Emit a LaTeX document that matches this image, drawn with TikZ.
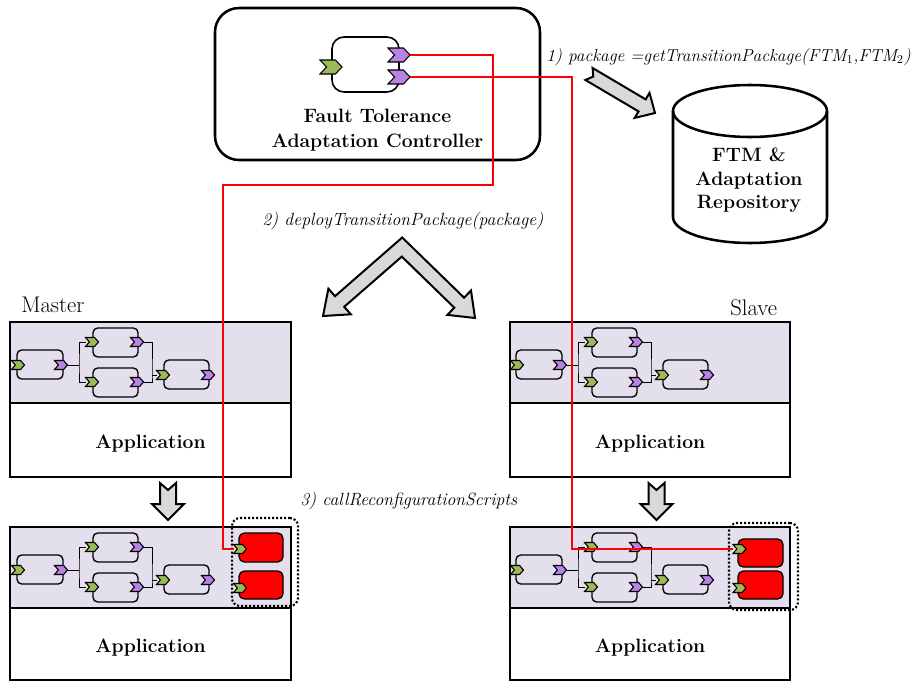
\documentclass[tikz,border=0pt]{standalone}
\usetikzlibrary{calc}
\definecolor{bandc}{RGB}{228,223,236}
\definecolor{pgreen}{RGB}{155,187,89}
\definecolor{ppurple}{RGB}{185,130,230}
\definecolor{agray}{RGB}{217,217,217}
\newcommand\portp[5]{\filldraw[portline,fill=#1] ({#2-#4/2},{#3-#5/2}) -- ({#2+0.2*#4},{#3-#5/2}) -- ({#2+#4/2},{#3}) -- ({#2+0.2*#4},{#3+#5/2}) -- ({#2-#4/2},{#3+#5/2}) -- ({#2-0.2*#4},{#3}) -- cycle;}
\newcommand\chain[3]{%
\begin{scope}[shift={(#2,#3)}]
 \node[comp,minimum width=34.5pt,minimum height=21.75pt] (#1c1) at (40,364.5) {};
 \node[comp,minimum width=33.75pt,minimum height=21.75pt] (#1c2) at (115.5,342.5) {};
 \node[comp,minimum width=33.75pt,minimum height=21.75pt] (#1c3) at (115.5,382.5) {};
 \node[comp,minimum width=33.75pt,minimum height=21.75pt] (#1c4) at (186.5,374.5) {};
 \coordinate (#1o1t) at (67.5,365);
 \coordinate (#1j1) at (79,365);
 \coordinate (#1i2b) at (85.5,342);
 \coordinate (#1i3b) at (85.5,382);
 \coordinate (#1o2t) at (143.5,342);
 \coordinate (#1o3t) at (143.5,382);
 \coordinate (#1j2) at (152,375);
 \coordinate (#1i4b) at (156.5,375);
 \draw[wire] (#1o1t) -- (#1j1);
 \draw[wire] (#1i2b) -| (#1j1) |- (#1i3b);
 \draw[wire] (#1o2t) -| (#1j2) |- (#1o3t);
 \draw[wire] (#1j2) -- (#1i4b);
 \portp{pgreen}{18}{365}{13}{9}
 \portp{ppurple}{61}{365}{13}{9}
 \portp{pgreen}{92}{342}{13}{9}
 \portp{ppurple}{137}{342}{13}{9}
 \portp{pgreen}{92}{382}{13}{9}
 \portp{ppurple}{137}{382}{13}{9}
 \portp{pgreen}{163}{375}{13}{9}
 \portp{ppurple}{208}{375}{13}{9}
\end{scope}}
\begin{document}
\begin{tikzpicture}[x=0.75pt,y=-0.75pt,
 box/.style={draw,line width=1.9pt,inner sep=0pt},
 comp/.style={draw,line width=1pt,rounded corners=3.5pt,inner sep=0pt},
 wire/.style={line width=0.6pt},
 portline/.style={line width=0.8pt,line join=miter},
 redwire/.style={red,line width=1.1pt},
 btxt/.style={font=\fontsize{14.5}{18}\selectfont\bfseries,inner sep=0pt},
 itxt/.style={font=\fontsize{13.3}{16}\selectfont\itshape,inner sep=0pt},
 rtxt/.style={font=\fontsize{17}{20}\selectfont,inner sep=0pt},
 blockarrow/.style={draw,fill=agray,line width=1.5pt,line join=miter},
 redbox/.style={draw,fill=red,line width=1pt,rounded corners=4pt,inner sep=0pt},
 dotbox/.style={draw,line width=1.6pt,dash pattern=on 1.5pt off 1.5pt,rounded corners=6pt,inner sep=0pt},
 ]
\useasboundingbox[fill=white] (0,0) rectangle (915,682);

% controller
\node[box,rounded corners=18pt,minimum width=243.75pt,minimum height=114pt] (ctl) at (377.5,84) {};
\node[draw,line width=1.2pt,rounded corners=9pt,minimum width=50.25pt,minimum height=41.25pt,inner sep=0pt] (ctlc) at (365.5,64.5) {};
\portp{pgreen}{331}{67}{22}{14}
\portp{ppurple}{399}{55}{22}{14}
\portp{ppurple}{399}{77}{22}{14}
\coordinate (ctlo1) at (410,55);
\coordinate (ctlo2) at (410,77);
\node[btxt,anchor=base] (ctlt1) at (377.5,122) {Fault Tolerance};
\node[btxt,anchor=base] (ctlt2) at (377.5,147) {Adaptation Controller};

% repository
\node[inner sep=0pt,minimum width=115.5pt,minimum height=118.5pt] (repo) at (750,164) {};
\draw[line width=1.9pt] (750,111) ellipse [x radius=57.75pt,y radius=19.5pt];
\draw[line width=1.9pt] (673,111) -- (673,217) arc[start angle=180,end angle=360,x radius=57.75pt,y radius=19.5pt] -- (827,111);
\node[btxt,anchor=base] (rt1) at (749,161) {FTM \&};
\node[btxt,anchor=base] (rt2) at (749,185) {Adaptation};
\node[btxt,anchor=base] (rt3) at (749,208) {Repository};

% labels
\node[itxt,font=\fontsize{13}{16}\selectfont\itshape,anchor=base east] (lab1) at (911,61) {1) package =getTransitionPackage(FTM$_1$,FTM$_2$)};
\node[itxt,anchor=base west] (lab2) at (262,225) {2) deployTransitionPackage(package)};
\node[itxt,anchor=base west] (lab3) at (300,505) {3) callReconfigurationScripts};
\node[rtxt,anchor=base west] (mlab) at (21,312) {Master};
\node[rtxt,anchor=base west] (slab) at (730,315) {Slave};

% block arrows
\draw[blockarrow] (592.6,68.0) -- (645.7,99.4) -- (649.5,92.9) -- (655,113) -- (634.7,117.9) -- (638.5,111.4) -- (585.4,80.0) -- (593.3,76.5) -- cycle;
\draw[blockarrow] (402.2,237.5) -- (335.0,296.2) -- (328.4,288.7) -- (323,316) -- (350.8,314.3) -- (344.2,306.8) -- (401.8,256.6) -- (454.3,307.7) -- (447.4,314.9) -- (475,318) -- (471.0,290.5) -- (464.1,297.7) -- cycle;
\draw[blockarrow] (160,483) -- (168,490) -- (176,483) -- (176,504) -- (184,504) -- (168,520) -- (152,504) -- (160,504) -- cycle;
\draw[blockarrow] (648.5,483) -- (656.5,490) -- (664.5,483) -- (664.5,504) -- (672.5,504) -- (656.5,520) -- (640.5,504) -- (648.5,504) -- cycle;

% master top
\node[box,fill=bandc,minimum width=210.75pt,minimum height=60.75pt] (mtband) at (150.5,362.5) {};
\node[box,minimum width=210.75pt,minimum height=55.5pt] (mtapp) at (150.5,440) {};
\node[btxt,anchor=base] (mtappt) at (150.5,448) {Application};
\chain{mt}{0}{0}
% master bottom
\node[box,fill=bandc,minimum width=210.75pt,minimum height=60.75pt] (mbband) at (150.5,567.5) {};
\node[box,minimum width=210.75pt,minimum height=54pt] (mbapp) at (150.5,644) {};
\node[btxt,anchor=base] (mbappt) at (150.5,652) {Application};
\chain{mb}{0}{205}
\node[redbox,minimum width=33pt,minimum height=21.75pt] (mbr1) at (261,547.5) {};
\node[redbox,minimum width=33pt,minimum height=21pt] (mbr2) at (261,585) {};
\portp{pgreen}{240}{549}{13}{9}
\portp{pgreen}{240}{588}{13}{9}
\coordinate (mbp1) at (233.5,549);
\node[dotbox,minimum width=49.5pt,minimum height=66pt] (mbdot) at (265,562) {};

% slave top
\node[box,fill=bandc,minimum width=210pt,minimum height=60.75pt] (stband) at (650,362.5) {};
\node[box,minimum width=210pt,minimum height=55.5pt] (stapp) at (650,440) {};
\node[btxt,anchor=base] (stappt) at (650,448) {Application};
\chain{st}{499}{0}
% slave bottom
\node[box,fill=bandc,minimum width=210pt,minimum height=60.75pt] (sbband) at (650,567.5) {};
\node[box,minimum width=210pt,minimum height=54pt] (sbapp) at (650,644) {};
\node[btxt,anchor=base] (sbappt) at (650,652) {Application};
\chain{sb}{499}{205}
\node[redbox,minimum width=33.75pt,minimum height=21pt] (sbr1) at (760.5,553) {};
\node[redbox,minimum width=33.75pt,minimum height=21pt] (sbr2) at (760.5,585) {};
\portp{pgreen}{739.5}{549}{13}{9}
\portp{pgreen}{739.5}{588}{13}{9}
\coordinate (sbp1) at (733,549);
\node[dotbox,minimum width=51.75pt,minimum height=65.25pt] (sbdot) at (763.5,566.5) {};

% red connectors
\draw[redwire] (ctlo1) -- (493,55) -- (493,185) -- (223,185) |- (mbp1);
\draw[redwire] (ctlo2) -- (572,77) |- (sbp1);
\end{tikzpicture}
\end{document}
